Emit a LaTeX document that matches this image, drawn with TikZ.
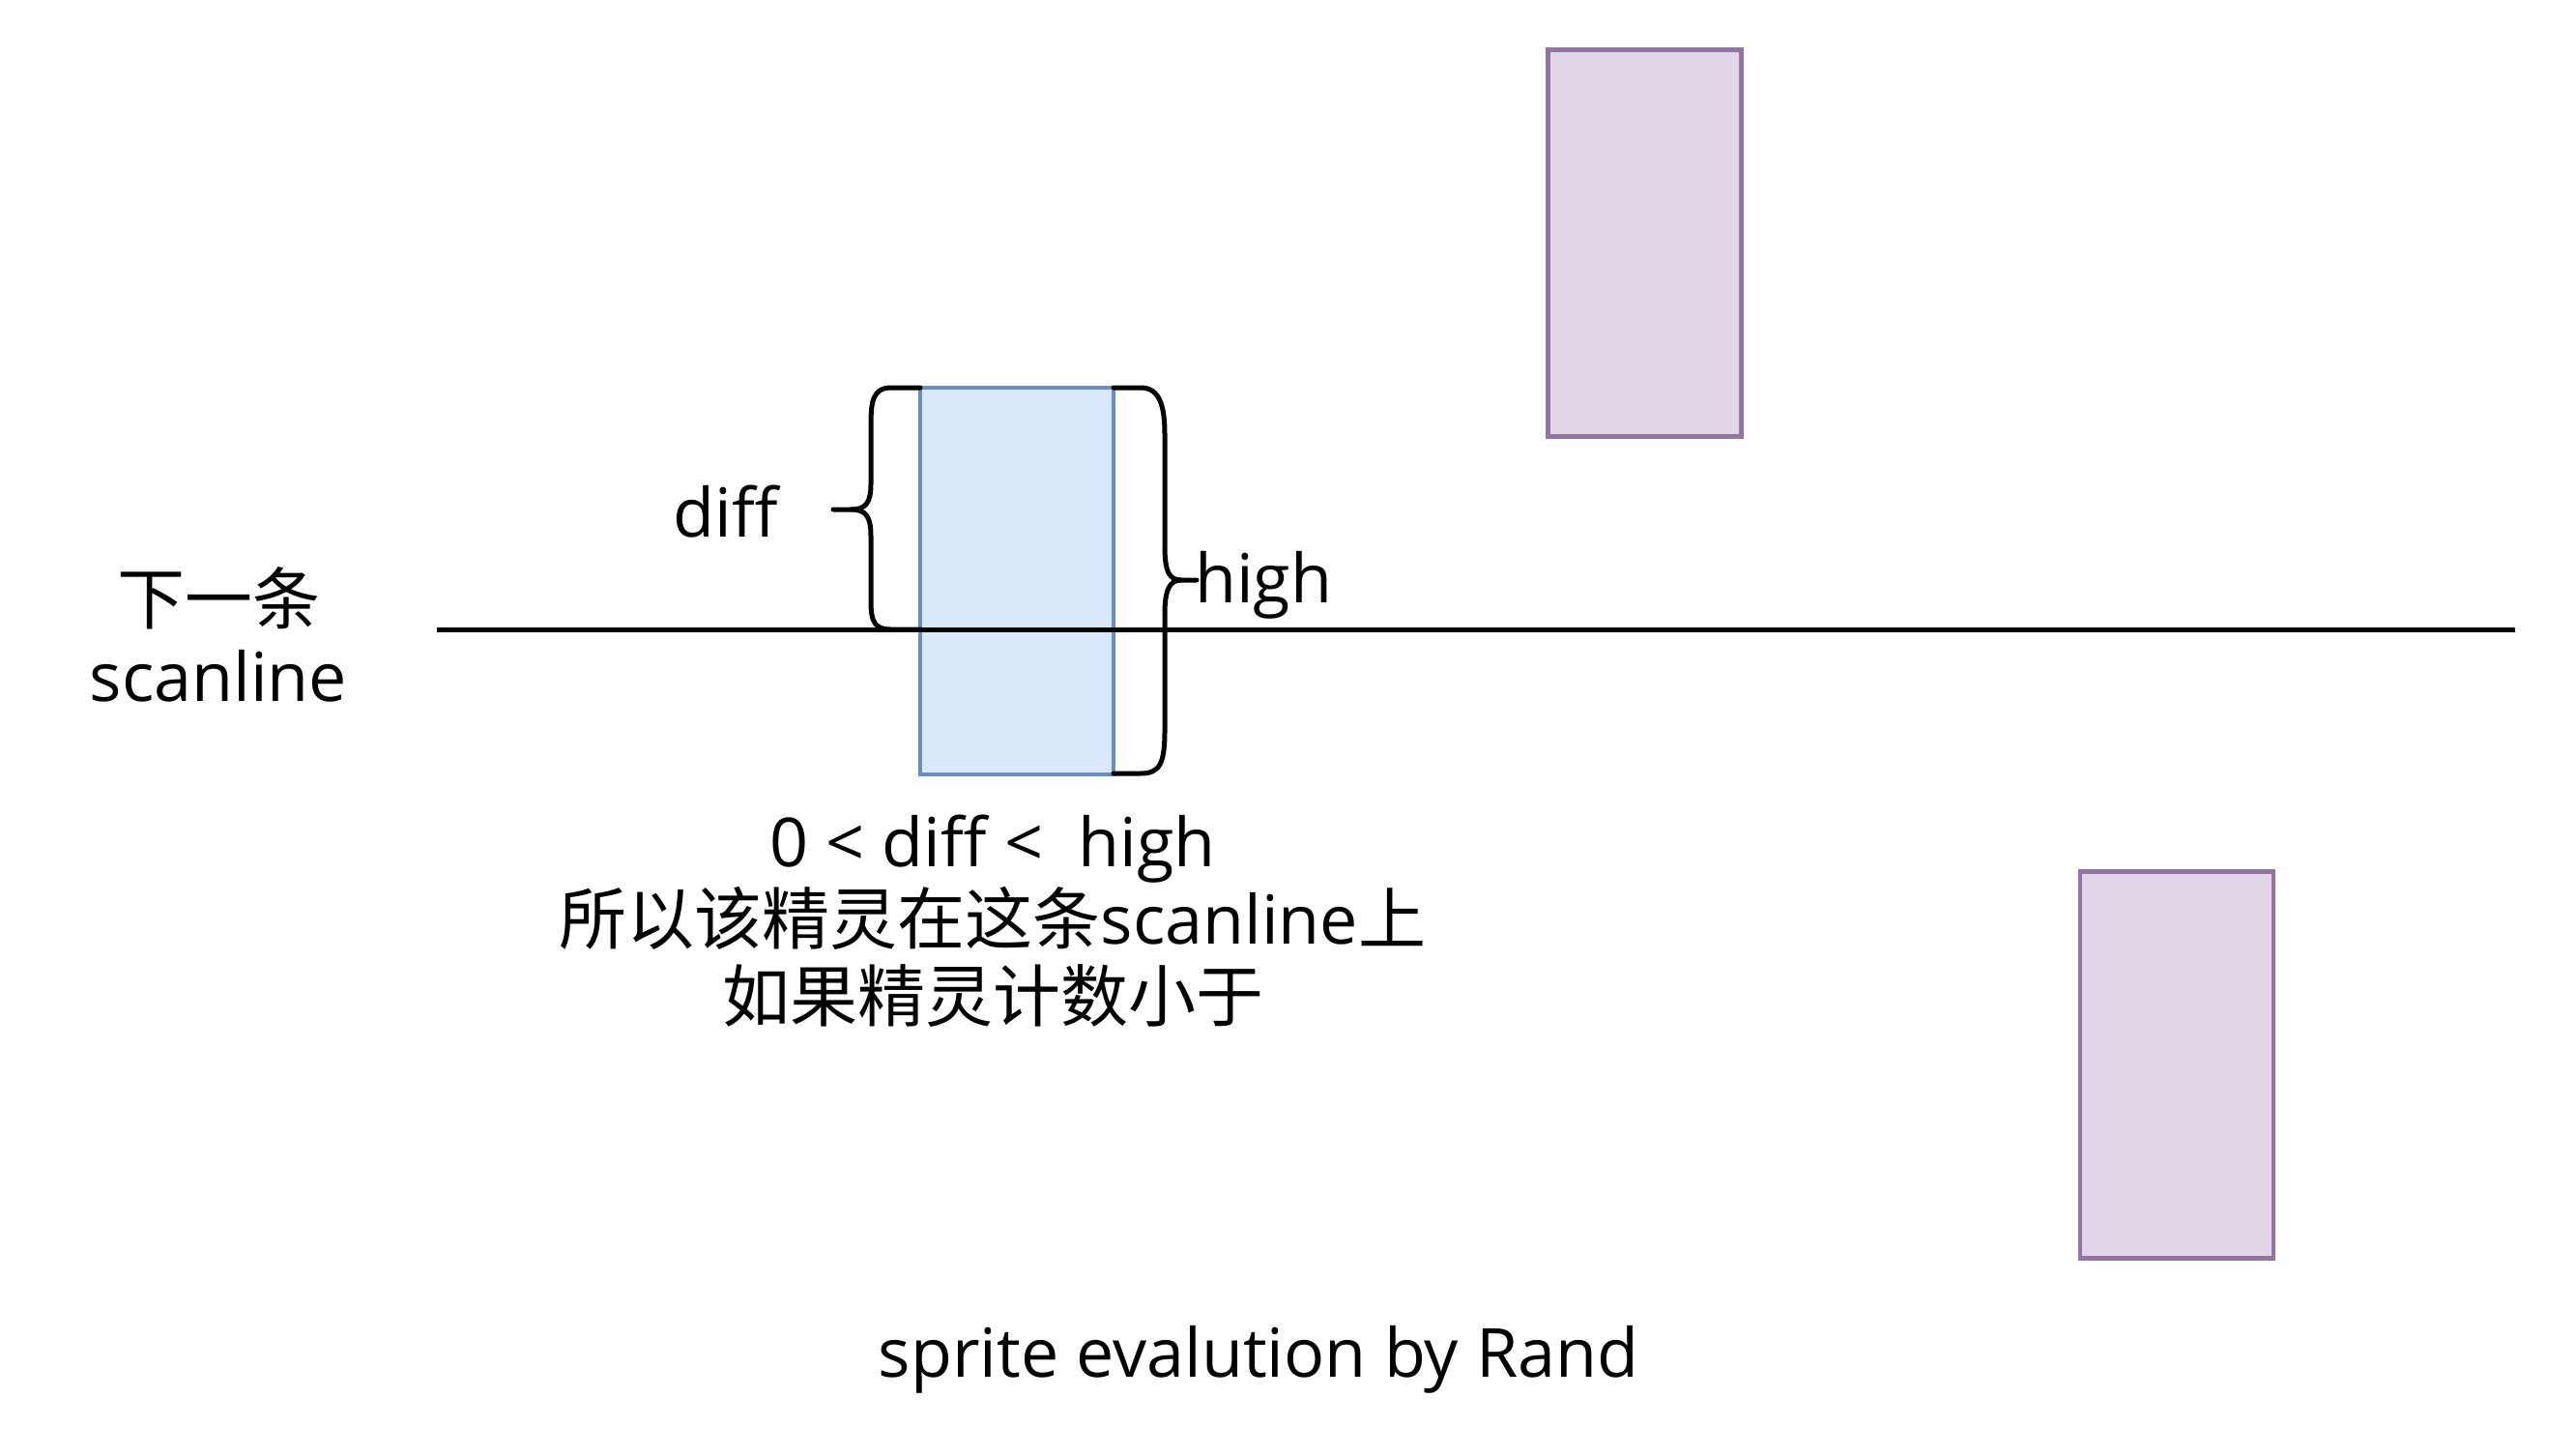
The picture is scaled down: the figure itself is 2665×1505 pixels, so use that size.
\documentclass[tikz,border=0pt]{standalone}
\usepackage{fontspec}
\setmainfont{Open Sans}
\newfontfamily\cjk{Noto Sans CJK SC}
\newcommand{\zh}[1]{{\cjk\fontsize{70}{80}\selectfont #1}}
\definecolor{bluefill}{HTML}{DAE8FC}
\definecolor{bluedraw}{HTML}{6C8EBF}
\definecolor{purfill}{HTML}{E1D5E7}
\definecolor{purdraw}{HTML}{9673A6}
\tikzset{
  spritebox/.style={draw=bluedraw,fill=bluefill,line width=4.5pt,minimum width=200pt,minimum height=400pt,inner sep=0pt},
  otherbox/.style={draw=purdraw,fill=purfill,line width=4.5pt,minimum width=200pt,minimum height=400pt,inner sep=0pt},
  bracestroke/.style={draw=black,line width=5pt,line cap=round,line join=round},
  lbl/.style={inner sep=0pt,align=center,font=\fontsize{70}{80}\selectfont},
}
\begin{document}
\begin{tikzpicture}[x=1pt,y=-1pt]
\useasboundingbox (0,0) rectangle (2665,1505);
% scanline
\coordinate (sl1) at (452,651);
\coordinate (sl2) at (2602,651);
% boxes
\node[spritebox] (sprite) at (1052,601) {};
\node[otherbox] (up) at (1701.5,251.5) {};
\node[otherbox] (down) at (2252,1101.5) {};
\draw[line width=5pt] (sl1) -- (sl2);
% left brace (diff)
\draw[bracestroke] (952,401) -- (922,401) .. controls (903,401) and (901,415) .. (901,440) -- (901,500)
  .. controls (901,520) and (896,527) .. (880,527) -- (862,527);
\draw[bracestroke] (880,527) .. controls (896,527) and (901,534) .. (901,555) -- (901,622)
  .. controls (901,645) and (906,651) .. (922,651) -- (952,651);
% right brace (high)
\draw[bracestroke] (1152,401) -- (1180,401) .. controls (1200,401) and (1205,420) .. (1205,450) -- (1205,565)
  .. controls (1205,592) and (1210,600) .. (1222,600) -- (1238,600);
\draw[bracestroke] (1222,600) .. controls (1210,600) and (1205,610) .. (1205,635) -- (1205,755)
  .. controls (1205,790) and (1200,800) .. (1180,800) -- (1152,800);
% labels
\node[lbl] (diff) at (751,529) {diff};
\node[lbl,anchor=west] (high) at (1236,605) {high};
\node[lbl] (next) at (226,656) {\zh{下一条}\\scanline};
\node[lbl] (cond) at (1027,953) {0 < diff <\ \ high\\\zh{所以该精灵在这条}scanline\zh{上}\\\zh{如果精灵计数小于}};
\node[lbl] (title) at (1302,1406) {sprite evalution by Rand};
\end{tikzpicture}
\end{document}
